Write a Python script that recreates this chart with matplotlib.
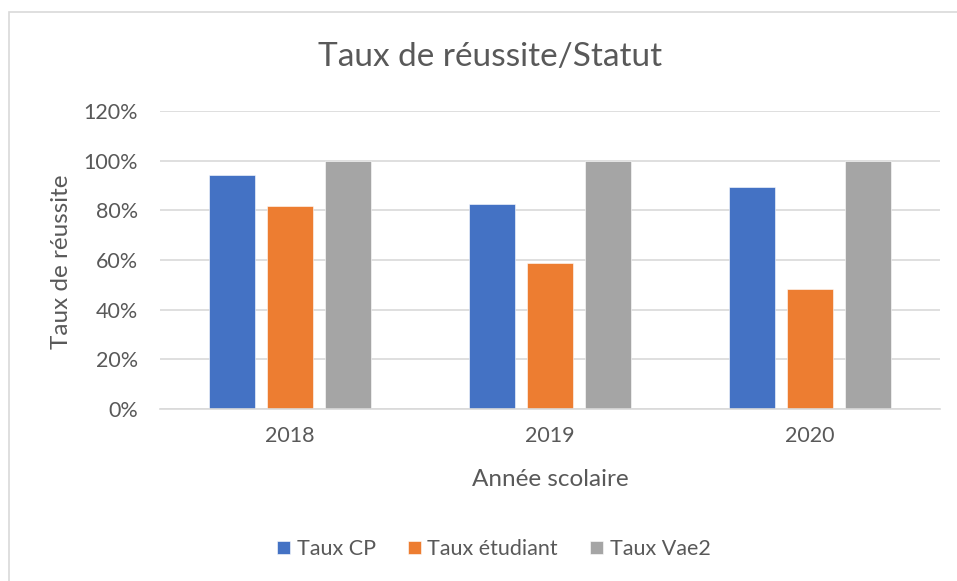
import matplotlib.pyplot as plt
import numpy as np
from matplotlib.patches import Rectangle

# ==========================
# DATA
# ==========================

years = ["2018", "2019", "2020"]
taux_cp = [0.943, 0.825, 0.892]
taux_etudiant = [0.818, 0.588, 0.484]
taux_vae2 = [1.00, 1.00, 1.00]

series = ["Taux CP", "Taux étudiant", "Taux Vae2"]
colors = ["#4472C4", "#ED7D31", "#A5A5A5"]

plt.rcParams["font.family"] = ["Lato", "DejaVu Sans"]
text_color = "#595959"

# ==========================
# CHART
# ==========================

fig = plt.figure(figsize=(9.57, 5.81), dpi=100)
ax = fig.add_axes([160 / 957, 1 - 409 / 581, 780 / 957, 298 / 581])

# light chart border (top / left visible)
fig.patches.append(Rectangle((9 / 957, -0.1), 1.2, 1 - 12 / 581 + 0.1,
                             transform=fig.transFigure, fill=False,
                             edgecolor="#D9D9D9", linewidth=1.2))

x = np.arange(len(years))
width = 0.177
offset = 0.223

for i, (vals, label, col) in enumerate(zip([taux_cp, taux_etudiant, taux_vae2], series, colors)):
    ax.bar(x + (i - 1) * offset, vals, width, color=col, label=label,
           edgecolor="white", linewidth=0.4, zorder=3)

ax.set_xlim(-0.5, 2.5)
ax.set_ylim(0, 1.2)
ax.set_yticks(np.arange(0, 1.21, 0.2))
ax.set_yticklabels([f"{int(round(v * 100))}%" for v in np.arange(0, 1.21, 0.2)])
ax.set_xticks(x)
ax.set_xticklabels(years)

ax.tick_params(axis="y", length=0, pad=16, labelsize=15.5, labelcolor=text_color)
ax.tick_params(axis="x", length=0, pad=12, labelsize=15.5, labelcolor=text_color)

ax.grid(axis="y", color="#D9D9D9", linewidth=1.2, zorder=0)
for s in ["top", "right", "left"]:
    ax.spines[s].set_visible(False)
ax.spines["bottom"].set_color("#D9D9D9")
ax.spines["bottom"].set_linewidth(1.2)
ax.spines["bottom"].set_zorder(4)

fig.text(490 / 957, 1 - 57 / 581, "Taux de réussite/Statut", ha="center", va="center",
         fontsize=24, color=text_color)
fig.text(62 / 957, 1 - 262 / 581, "Taux de réussite", ha="center", va="center",
         rotation=90, fontsize=17.5, color=text_color)
fig.text(550 / 957, 1 - 480 / 581, "Année scolaire", ha="center", va="center",
         fontsize=17.5, color=text_color)

fig.legend(loc="center", bbox_to_anchor=(494 / 957, 1 - 549 / 581), ncol=3,
           frameon=False, fontsize=15.5, labelcolor=text_color,
           handlelength=0.6, handleheight=0.6, handletextpad=0.3, columnspacing=1.5)

plt.savefig("out.png", dpi=100)
